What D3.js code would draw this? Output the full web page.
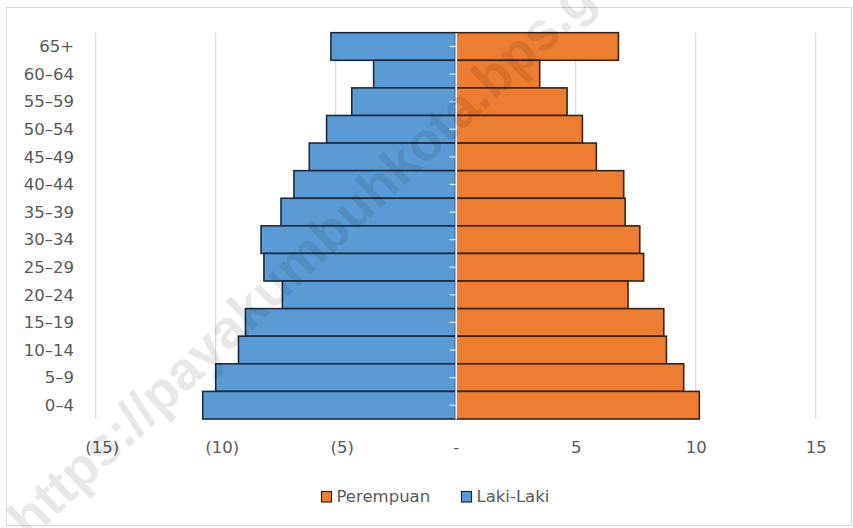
<!DOCTYPE html>
<html>
<head>
<meta charset="utf-8">
<script src="https://cdn.jsdelivr.net/npm/d3@7"></script>
<style>
  html, body { margin: 0; padding: 0; background: #fff; }
  svg { display: block; }
  text { font-family: "DejaVu Sans", sans-serif; }
</style>
</head>
<body>
<div id="chart"></div>
<script>
// ---- data (top to bottom, as drawn) ----
const ageGroups = ["65+","60–64","55–59","50–54","45–49","40–44","35–39","30–34","25–29","20–24","15–19","10–14","5–9","0–4"];
const lakiLaki  = [5.2, 3.42, 4.33, 5.38, 6.10, 6.74, 7.28, 8.11, 7.99, 7.22, 8.76, 9.05, 10.0, 10.54];
const perempuan = [6.78, 3.50, 4.64, 5.28, 5.86, 7.00, 7.06, 7.67, 7.83, 7.18, 8.67, 8.78, 9.50, 10.15];
const xTicks = [-15, -10, -5, 0, 5, 10, 15];
const seriesNames = ["Perempuan", "Laki-Laki"];
const watermark = "https://payakumbuhkota.bps.go.id";

// ---- layout ----
const W = 853, H = 528;
const colors = { "Perempuan": "#ED7D31", "Laki-Laki": "#5B9BD5" };
const strokes = { "Perempuan": "#3a2415", "Laki-Laki": "#1c2a40" };

const svg = d3.select("#chart").append("svg").attr("width", W).attr("height", H);

// outer border
svg.append("rect").attr("x", 6.5).attr("y", 7.5).attr("width", 845).attr("height", 518)
  .attr("fill", "#fff").attr("stroke", "#d9d9d9").attr("stroke-width", 1);

const x = d3.scaleLinear().domain([-15, 15]).range([95.7, 815.7]);
const y = d3.scaleBand().domain(ageGroups).range([32.7, 419]).padding(0);

// gridlines
svg.append("g").selectAll("line").data(xTicks).join("line")
  .attr("x1", d => x(d)).attr("x2", d => x(d))
  .attr("y1", y.range()[0]).attr("y2", y.range()[1])
  .attr("stroke", "#d9d9d9").attr("stroke-width", 1.2);

// bars
const rows = ageGroups.map((g, i) => ({ g, m: lakiLaki[i], f: perempuan[i] }));
svg.append("g").selectAll("rect").data(rows).join("rect")
  .attr("x", d => x(-d.m)).attr("y", d => y(d.g))
  .attr("width", d => x(0) - x(-d.m)).attr("height", y.bandwidth())
  .attr("fill", colors["Laki-Laki"]).attr("stroke", strokes["Laki-Laki"]).attr("stroke-width", 1.6);
svg.append("g").selectAll("rect").data(rows).join("rect")
  .attr("x", x(0)).attr("y", d => y(d.g))
  .attr("width", d => x(d.f) - x(0)).attr("height", y.bandwidth())
  .attr("fill", colors["Perempuan"]).attr("stroke", strokes["Perempuan"]).attr("stroke-width", 1.6);

// vertical category axis at zero
const yAxis = d3.axisLeft(y).tickSize(6).tickSizeOuter(0).tickFormat("");
const ya = svg.append("g").attr("transform", `translate(${x(0)},0)`).call(yAxis);
ya.select(".domain").attr("stroke", "#ececec").attr("stroke-width", 1.8);
ya.selectAll(".tick line").attr("stroke", "#e6e6e6").attr("stroke-width", 1.2);

// category labels
svg.append("g").selectAll("text").data(ageGroups).join("text")
  .attr("x", 74).attr("y", d => y(d) + y.bandwidth() / 2)
  .attr("dy", "0.35em").attr("text-anchor", "end")
  .attr("font-size", 16.5).attr("fill", "#595959").text(d => d);

// x tick labels
const fmt = d => d < 0 ? `(${-d})` : (d === 0 ? "-" : `${d}`);
const xAxis = d3.axisBottom(x).tickValues(xTicks).tickSize(0).tickFormat(fmt);
const xa = svg.append("g").attr("transform", `translate(0,${y.range()[1]})`).call(xAxis);
xa.select(".domain").remove();
xa.selectAll(".tick text")
  .attr("y", 28).attr("dy", "0.35em")
  .attr("dx", d => d < 0 ? 6 : 0)
  .attr("font-size", 16.5).attr("fill", "#595959");

// legend
const legendPos = [321, 461];
const lg = svg.append("g").selectAll("g").data(seriesNames).join("g")
  .attr("transform", (d, i) => `translate(${legendPos[i]},491)`);
lg.append("rect").attr("x", 0.5).attr("y", 0.5).attr("width", 10).attr("height", 10.5)
  .attr("fill", d => colors[d]).attr("stroke", d => strokes[d]).attr("stroke-width", 1.2);
lg.append("text").attr("x", 15.5).attr("y", 5.5).attr("dy", "0.35em")
  .attr("font-size", 16.5).attr("fill", "#595959").text(d => d);

// watermark
svg.append("text")
  .attr("transform", "translate(30,541) rotate(-43.5)")
  .style("font-family", "'Liberation Sans', Arial, sans-serif")
  .style("font-weight", "bold").style("font-size", "54px")
  .attr("fill", "#000").attr("fill-opacity", 0.09)
  .text(watermark);
</script>
</body>
</html>
